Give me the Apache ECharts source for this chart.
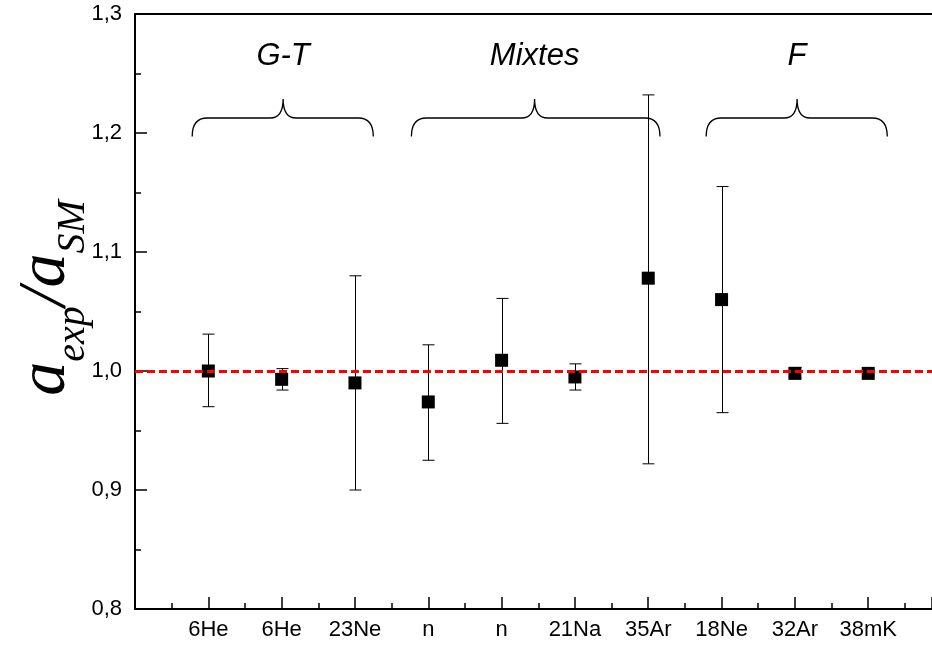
<!DOCTYPE html>
<html><head><meta charset="utf-8">
<script src="https://cdn.jsdelivr.net/npm/echarts@6/dist/echarts.min.js"></script>
<style>html,body{margin:0;padding:0;background:#fff}#c{width:932px;height:650px}</style>
</head><body><div id="c"></div>
<script>
const categories = ['6He','6He','23Ne','n','n','21Na','35Ar','18Ne','32Ar','38mK'];
const ratio   = [1.000, 0.993, 0.990, 0.974, 1.009, 0.995, 1.078, 1.060, 0.998, 0.998];
const errLow  = [0.970, 0.984, 0.900, 0.925, 0.956, 0.984, 0.922, 0.965, 0.994, 0.996];
const errHigh = [1.031, 1.002, 1.080, 1.022, 1.061, 1.006, 1.232, 1.155, 1.003, 1.001];
const refValue = 1.0;
const groupNames = ['G-T', 'Mixtes', 'F'];
const groupFrom  = [0.78, 3.77, 7.79];
const groupTo    = [3.25, 7.16, 10.26];
const groupMid   = [2.02, 5.45, 9.03];

const X_MAX = 10.87;
const BR_END = 1.197, BR_BAR = 1.2126, BR_TIP = 1.2286, LABEL_Y = 1.2647;
const FONT = "'Liberation Sans', Arial, Helvetica, sans-serif";
const SERIF = "'Liberation Serif', 'Times New Roman', serif";

const points = categories.map((c, i) => [i + 1, ratio[i]]);
const bars = categories.map((c, i) => [i + 1, errLow[i], errHigh[i]]);
const groups = groupNames.map((g, i) => [groupFrom[i], groupTo[i], groupMid[i]]);

const chart = echarts.init(document.getElementById('c'), null, {renderer: 'canvas'});
chart.setOption({
  animation: false,
  backgroundColor: '#fff',
  grid: {left: 135, top: 14, right: 0, bottom: 41},
  xAxis: [{
    type: 'value', min: 0, max: X_MAX, interval: 1,
    axisLine: {show: true, lineStyle: {color: '#000', width: 2}},
    axisTick: {show: true, inside: true, length: 12, lineStyle: {color: '#000', width: 1.5}},
    minorTick: {show: true, splitNumber: 2, length: 6, lineStyle: {color: '#000', width: 1.5}},
    splitLine: {show: false}, minorSplitLine: {show: false},
    axisLabel: {
      color: '#000', fontSize: 22, fontFamily: FONT, margin: 10,
      showMaxLabel: false,
      formatter: v => (v >= 1 && v <= categories.length && Number.isInteger(v)) ? categories[v - 1] : ''
    }
  }, {
    type: 'value', min: 0, max: X_MAX, position: 'top',
    axisLine: {show: true, onZero: false, lineStyle: {color: '#000', width: 2}},
    axisTick: {show: false}, axisLabel: {show: false}, splitLine: {show: false}
  }],
  yAxis: {
    type: 'value', min: 0.8, max: 1.3, interval: 0.1,
    axisLine: {show: true, lineStyle: {color: '#000', width: 2}},
    axisTick: {show: true, inside: true, length: 12, lineStyle: {color: '#000', width: 1.5}},
    minorTick: {show: true, splitNumber: 2, length: 6, lineStyle: {color: '#000', width: 1.5}},
    splitLine: {show: false},
    axisLabel: {
      color: '#000', fontSize: 22, fontFamily: FONT, margin: 13,
      formatter: v => v.toFixed(1).replace('.', ',')
    }
  },
  graphic: [{
    type: 'text', x: 53, y: 298, rotation: Math.PI / 2,
    style: {
      text: '{a|a}{s|exp}{a|/a}{s|SM}',
      align: 'center', verticalAlign: 'middle',
      rich: {
        a: {fontSize: 68, fontFamily: SERIF, fontStyle: 'italic', fill: '#000', verticalAlign: 'bottom', padding: [0, 0, 13, 0]},
        s: {fontSize: 40, fontFamily: SERIF, fontStyle: 'italic', fill: '#000', verticalAlign: 'bottom'}
      }
    }
  }],
  series: [{
    type: 'custom', name: 'braces', z: 2,
    data: groups,
    renderItem: (params, api) => {
      const x0 = api.value(0), x1 = api.value(1), xm = api.value(2);
      const pL = api.coord([x0, BR_END]), pR = api.coord([x1, BR_END]);
      const yH = api.coord([xm, BR_BAR])[1];
      const tip = api.coord([xm, BR_TIP]);
      const r = 15, r2 = 13;
      const d = `M${pL[0]},${pL[1]} Q${pL[0]},${yH} ${pL[0] + r},${yH} L${tip[0] - r2},${yH} Q${tip[0]},${yH} ${tip[0]},${tip[1]} Q${tip[0]},${yH} ${tip[0] + r2},${yH} L${pR[0] - r},${yH} Q${pR[0]},${yH} ${pR[0]},${pR[1]}`;
      const lp = api.coord([xm, LABEL_Y]);
      return {type: 'group', children: [
        {type: 'path', shape: {pathData: d}, style: {fill: 'none', stroke: '#000', lineWidth: 1.3}},
        {type: 'text', x: lp[0], y: lp[1], style: {text: groupNames[params.dataIndex], fontSize: 31, fontStyle: 'italic', fontFamily: FONT, fill: '#000', align: 'center', verticalAlign: 'middle'}}
      ]};
    }
  }, {
    type: 'custom', name: 'errors', z: 3,
    data: bars,
    renderItem: (params, api) => {
      const x = api.value(0);
      const lo = api.coord([x, api.value(1)]), hi = api.coord([x, api.value(2)]);
      const cx = Math.round(lo[0]) + 0.5, hw = 6;
      const st = {stroke: '#000', lineWidth: 1};
      return {type: 'group', children: [
        {type: 'line', shape: {x1: cx, y1: lo[1], x2: cx, y2: hi[1]}, style: st},
        {type: 'line', shape: {x1: cx - hw, y1: lo[1], x2: cx + hw, y2: lo[1]}, style: st},
        {type: 'line', shape: {x1: cx - hw, y1: hi[1], x2: cx + hw, y2: hi[1]}, style: st}
      ]};
    }
  }, {
    type: 'scatter', name: 'ratio', z: 4,
    symbol: 'rect', symbolSize: 13,
    itemStyle: {color: '#000', opacity: 1},
    data: points
  }, {
    type: 'scatter', name: 'ref', z: 6, data: [],
    markLine: {
      silent: true, symbol: ['none', 'none'], label: {show: false},
      lineStyle: {color: '#ff0000', type: [8, 4], width: 3, opacity: 1},
      data: [{yAxis: refValue}]
    }
  }]
});
</script>
</body></html>
